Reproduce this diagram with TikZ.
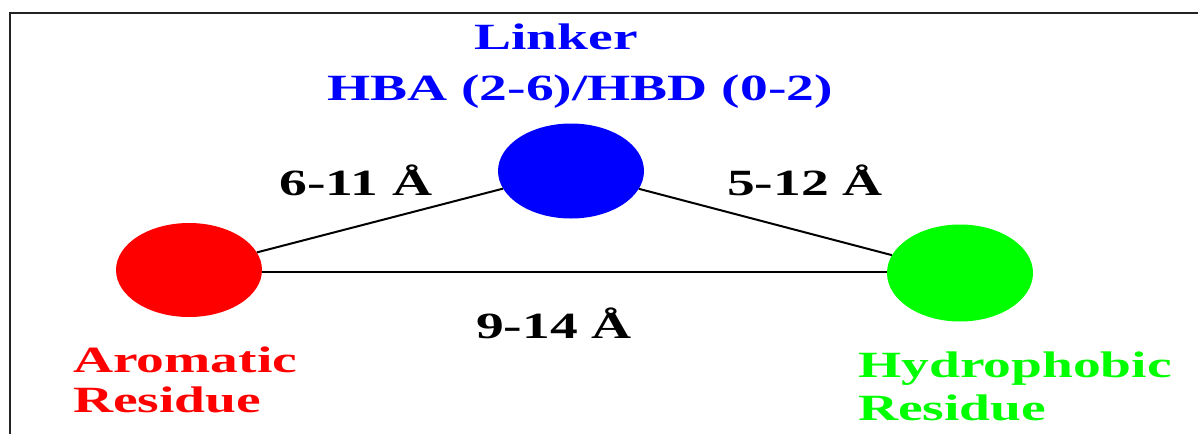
\documentclass[tikz,border=0pt]{standalone}
\usepackage{fontspec}
\usetikzlibrary{shapes.geometric}
\newfontfamily\labfont[FakeStretch=1.5]{Liberation Serif}
\definecolor{frame}{HTML}{222222}
\definecolor{lgreen}{HTML}{00FF00}
\begin{document}
\begin{tikzpicture}[x=1pt,y=-1pt,
  blob/.style={ellipse,inner sep=0pt},
  lab/.style={font=\labfont\bfseries\fontsize{37}{40}\selectfont,inner sep=0pt},
  bond/.style={line width=2pt,black}]
\useasboundingbox (0,0) rectangle (1198,434);
\draw[line width=2pt,frame] (9.5,434) -- (9.5,12.5) -- (1198,12.5);
% ellipses
\node[blob,fill=blue,minimum width=146pt,minimum height=95pt] (link) at (571,171) {};
\node[blob,fill=red,minimum width=146pt,minimum height=94pt] (arom) at (189,270) {};
\node[blob,fill=lgreen,minimum width=146pt,minimum height=97pt] (hyd) at (960,273) {};
% bonds
\draw[bond] (arom) -- (link);
\draw[bond] (link) -- (hyd);
\coordinate (hl) at ([yshift=-2pt]arom.east);
\draw[bond] (hl) -- (hl -| hyd.west);
% labels
\node[lab,blue,anchor=base] (t1) at (556,49) {Linker};
\node[lab,blue,anchor=base] (t2) at (580,100) {HBA (2-6)/HBD (0-2)};
\node[lab,anchor=base] (d1) at (356,195) {6-11 Å};
\node[lab,anchor=base] (d2) at (805,195) {5-12 Å};
\node[lab,anchor=base] (d3) at (554,338) {9-14 Å};
\node[lab,red,anchor=base west] (a1) at (73,372) {Aromatic};
\node[lab,red,anchor=base west] (a2) at (73,412) {Residue};
\node[lab,lgreen,anchor=base west] (h1) at (858,377) {Hydrophobic};
\node[lab,lgreen,anchor=base west] (h2) at (858,420) {Residue};
\end{tikzpicture}
\end{document}
